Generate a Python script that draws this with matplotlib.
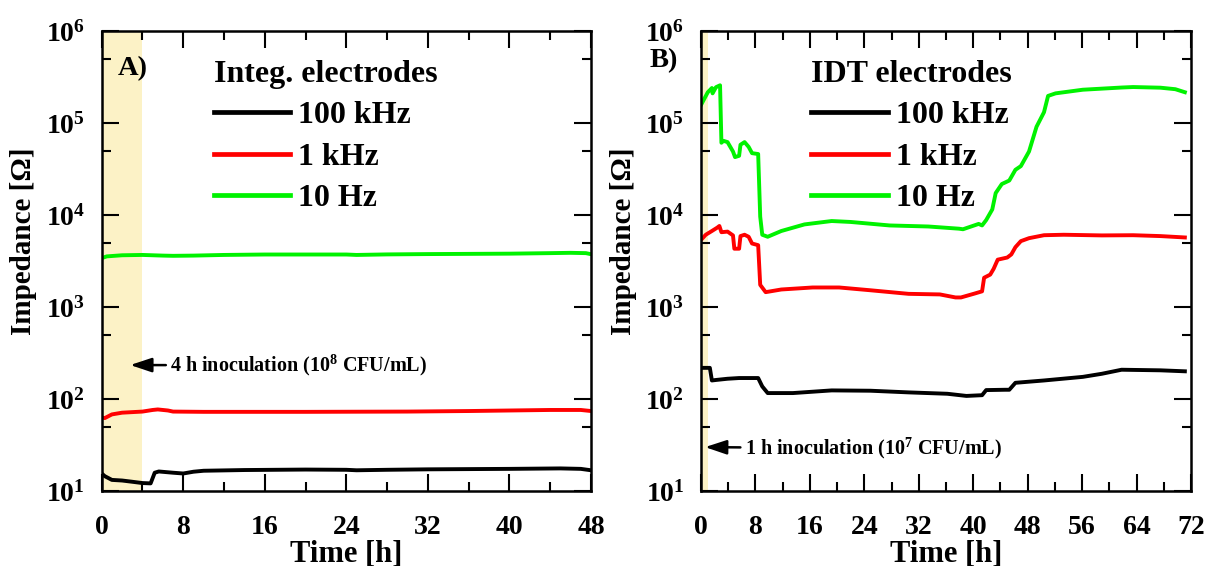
import math
import matplotlib
matplotlib.use("Agg")
import matplotlib.pyplot as plt
from matplotlib.ticker import FixedLocator, FuncFormatter, MultipleLocator, NullFormatter

plt.rcParams["font.family"] = ["Liberation Serif", "DejaVu Serif"]
plt.rcParams["font.weight"] = "bold"
plt.rcParams["mathtext.fontset"] = "custom"
plt.rcParams["mathtext.rm"] = "Liberation Serif"
plt.rcParams["mathtext.bf"] = "Liberation Serif:bold"
plt.rcParams["mathtext.default"] = "rm"

# ---------------- data ----------------
freq_labels = ["100 kHz", "1 kHz", "10 Hz"]
colors = ["#000000", "#FF0000", "#00F200"]

# Panel A: integrated electrodes (time in h, impedance in ohm)
a_t_100k = [0, 0.3, 1, 2, 3, 4, 4.8, 5.2, 5.6, 7, 8, 9, 10, 14, 20, 24, 25, 28, 32, 40, 45, 47, 48]
a_z_100k = [15.5, 14.5, 13.2, 13.0, 12.6, 12.2, 12.1, 15.8, 16.3, 15.8, 15.5, 16.2, 16.6, 16.9,
            17.1, 17.0, 16.8, 17.0, 17.2, 17.4, 17.6, 17.4, 16.8]
a_t_1k = [0, 0.3, 1, 2, 3, 4, 5, 5.5, 6.5, 7, 10, 20, 30, 36, 40, 44, 47, 48]
a_z_1k = [63, 62, 68, 71, 72, 73, 76, 77, 75, 73, 72.5, 72.5, 73, 74, 75, 76, 76, 74]
a_t_10 = [0, 0.5, 2, 4, 6, 7, 9, 12, 16, 24, 25, 28, 32, 40, 44, 46, 47.5, 48]
a_z_10 = [3400, 3550, 3650, 3680, 3620, 3600, 3620, 3680, 3720, 3720, 3680, 3730, 3760,
          3800, 3850, 3880, 3850, 3750]

# Panel B: IDT electrodes
b_t_100k = [0, 1.3, 1.6, 2.2, 3.9, 5.6, 8.4, 9.0, 9.8, 13.5, 19.2, 24.9, 30.5, 36.2, 39.0,
            41.3, 41.9, 44.7, 45.3, 46.2, 50.4, 56.1, 58.9, 61.8, 67.5, 71.1]
b_z_100k = [218, 218, 159, 161, 166, 169, 169, 137, 116, 116, 124, 123, 118, 114, 108,
            110, 125, 126, 126, 150, 159, 174, 188, 208, 205, 200]
b_t_1k = [0, 0.7, 1.6, 2.4, 2.7, 3.0, 3.9, 4.7, 4.9, 5.6, 5.8, 6.4, 7.0, 7.5, 8.4, 8.7, 9.5,
          11.8, 16.4, 20.3, 24.9, 30.5, 35.1, 37.4, 38.2, 40.2, 41.3, 41.6, 42.5, 43.0, 43.6,
          45.0, 45.6, 46.2, 47.0, 48.2, 50.4, 53.3, 58.9, 63.5, 67.5, 71.1]
b_z_1k = [5360, 6100, 6700, 7300, 7600, 6500, 6600, 6000, 4300, 4300, 5900, 6100, 5800, 4900,
          4700, 1740, 1450, 1550, 1630, 1630, 1520, 1390, 1370, 1270, 1270, 1400, 1480, 2080,
          2250, 2600, 3270, 3450, 3730, 4470, 5200, 5600, 6030, 6100, 6000, 6030, 5900, 5700]
b_t_10 = [0, 1.0, 1.6, 1.7, 2.2, 2.8, 3.0, 3.3, 3.9, 4.7, 5.0, 5.6, 5.8, 6.4, 7.0, 7.5, 8.4,
          8.7, 9.0, 9.8, 11.8, 15.2, 19.2, 22.0, 27.7, 33.4, 37.9, 38.5, 40.8, 41.3, 41.9, 42.8,
          43.3, 44.2, 45.3, 46.2, 47.0, 48.2, 49.3, 50.4, 51.0, 52.1, 56.1, 61.8, 63.5, 67.5,
          69.7, 71.1]
b_z_10 = [1.57e5, 2.16e5, 2.4e5, 2.1e5, 2.45e5, 2.57e5, 6.1e4, 6.4e4, 6.2e4, 4.9e4, 4.26e4,
          4.4e4, 5.8e4, 6.2e4, 5.5e4, 4.7e4, 4.6e4, 9.6e3, 6.1e3, 5.8e3, 6.7e3, 7.9e3, 8.6e3,
          8.4e3, 7.7e3, 7.5e3, 7.1e3, 7.0e3, 8.0e3, 7.7e3, 8.8e3, 1.15e4, 1.73e4, 2.17e4,
          2.37e4, 3.1e4, 3.4e4, 4.9e4, 9.1e4, 1.31e5, 1.97e5, 2.1e5, 2.3e5, 2.43e5, 2.46e5,
          2.42e5, 2.33e5, 2.16e5]

panels = [
    dict(series=[(a_t_100k, a_z_100k), (a_t_1k, a_z_1k), (a_t_10, a_z_10)],
         xmax=48, inoc_h=4, title="Integ. electrodes", tag="A)",
         note="4 h inoculation (10$^{8}$ CFU/mL)"),
    dict(series=[(b_t_100k, b_z_100k), (b_t_1k, b_z_1k), (b_t_10, b_z_10)],
         xmax=72, inoc_h=1, title="IDT electrodes", tag="B)",
         note="1 h inoculation (10$^{7}$ CFU/mL)"),
]

# ---------------- figure ----------------
W, H = 1206, 566
fig = plt.figure(figsize=(W / 100, H / 100), dpi=100)

axes_px = [(101.7, 31, 591, 491), (701, 31, 1191, 491)]  # left, top, right, bottom
tag_pos = [(0.033, 0.918), (-0.104, 0.935)]
leg_x = [0.229, 0.2245]
note_pos = [((2.8, 234), (6.7, 232)), ((0.6, 30), (6.4, 29))]
ylabel_x = [23.5, 623.5]


def decade_fmt(v, pos):
    return "10$^{%d}$" % int(round(math.log10(v)))


for i, (p, (l, t, r, b)) in enumerate(zip(panels, axes_px)):
    ax = fig.add_axes([l / W, 1 - b / H, (r - l) / W, (b - t) / H])
    ax.axvspan(0, p["inoc_h"], color="#FCF2C6", lw=0, zorder=0)
    for (tt, zz), lab, c in zip(p["series"], freq_labels, colors):
        ax.plot(tt, zz, color=c, lw=2.8, label=lab, solid_joinstyle="round")
    ax.set_yscale("log")
    ax.set_ylim(10, 1e6)
    ax.set_xlim(0, p["xmax"])
    ax.xaxis.set_major_locator(MultipleLocator(8))
    ax.xaxis.set_minor_locator(MultipleLocator(4))
    ax.yaxis.set_major_locator(FixedLocator([1e1, 1e2, 1e3, 1e4, 1e5, 1e6]))
    ax.yaxis.set_minor_locator(FixedLocator([5e1, 5e2, 5e3, 5e4, 5e5]))
    ax.yaxis.set_major_formatter(FuncFormatter(decade_fmt))
    ax.yaxis.set_minor_formatter(NullFormatter())
    ax.tick_params(which="both", direction="in", top=True, right=True, width=1.5,
                   labelsize=20)
    ax.tick_params(axis="x", which="both", pad=17)
    ax.tick_params(axis="y", which="both", pad=12)
    ax.tick_params(which="major", length=12.5)
    ax.tick_params(which="minor", length=6.5)
    for sp in ax.spines.values():
        sp.set_linewidth(1.8)

    ax.text(*tag_pos[i], p["tag"], transform=ax.transAxes, fontsize=20.5,
            fontweight="bold", ha="left", va="center")

    leg = ax.legend(title=p["title"], loc="upper left", bbox_to_anchor=(leg_x[i], 0.937),
                    frameon=False, fontsize=23, title_fontproperties=dict(size=23, weight="bold"),
                    alignment="left", borderpad=0, borderaxespad=0, handlelength=2.4,
                    handletextpad=0.25, labelspacing=0.38)
    for h in leg.legend_handles:
        h.set_linewidth(3.4)

    (xy, xyt) = note_pos[i]
    ax.annotate(p["note"], xy=xy, xytext=xyt, fontsize=14.5, fontweight="bold",
                ha="left", va="center",
                arrowprops=dict(arrowstyle="-|>,head_length=0.9,head_width=0.3",
                                color="black", lw=1.8, shrinkA=1, shrinkB=0))

    fig.text(ylabel_x[i] / W, 1 - 241.5 / H, "Impedance [Ω]", rotation=90, fontsize=21,
             fontweight="bold", ha="center", va="center")
    fig.text((l + r) / 2 / W, 1 - 561 / H, "Time [h]", fontsize=22, fontweight="bold",
             ha="center", va="baseline")

fig.savefig("out.png", dpi=100)
